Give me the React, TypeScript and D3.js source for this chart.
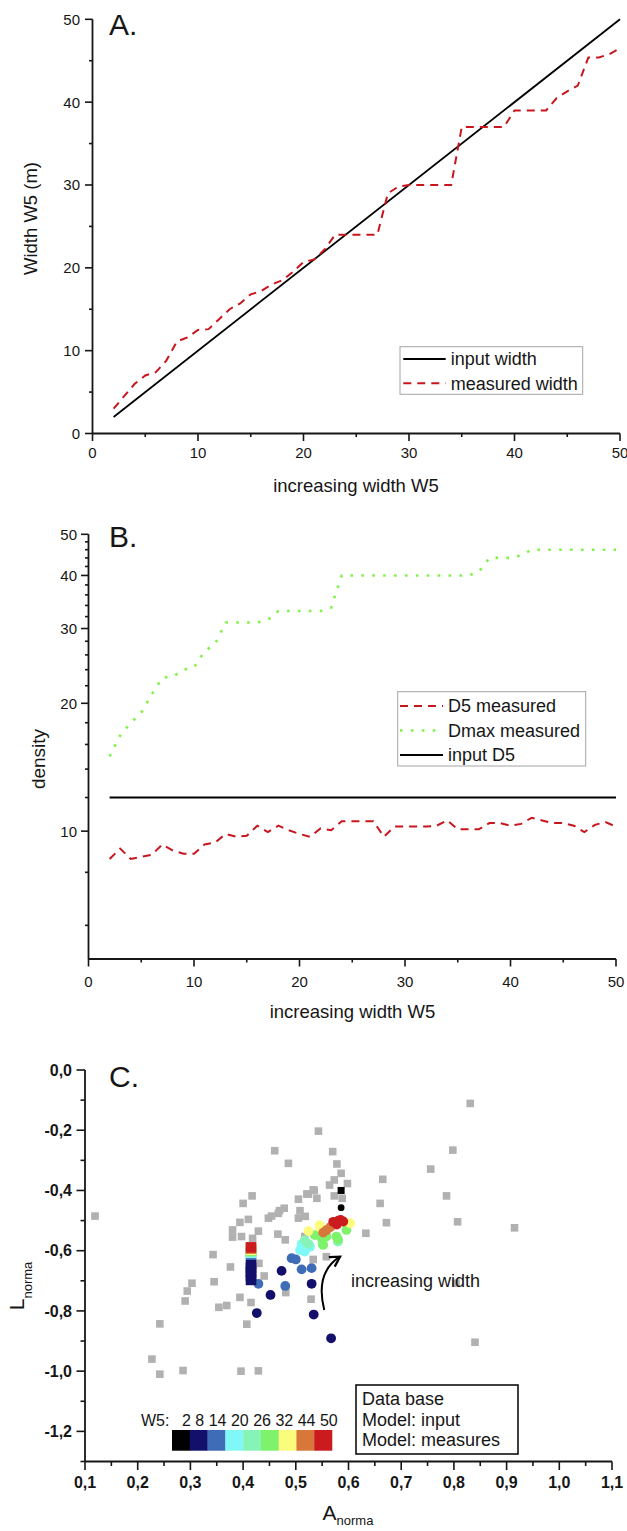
import React from "react";
import * as d3 from "d3";

// ---------- shared series: the widths W5 that were simulated ----------
const widthSteps = [
  2, 3, 4, 5, 6, 7, 8, 9, 10, 11, 12, 13, 14, 15, 16, 17, 18, 19, 20, 21, 22, 23, 24, 25, 26,
  27, 28, 29, 30, 31, 32, 33, 34, 35, 36, 37, 38, 39, 40, 41, 42, 43, 44, 45, 46, 47, 48, 49, 50,
];

// ---------- panel A ----------
const inputWidthLine: [number, number][] = [
  [2, 2],
  [50, 50],
];
const measuredWidth = [
  3, 4.5, 6, 7, 7.4, 8.8, 11.1, 11.6, 12.5, 12.6, 13.8, 15, 15.7, 16.8, 17.2, 18, 18.5, 19.5, 20.7, 21,
  22.2, 24, 24, 24, 24, 24, 29, 29.8, 30, 30, 30, 30, 30, 37, 37, 37, 37, 37, 39, 39, 39, 39, 40.5,
  41.3, 42, 45.4, 45.4, 45.8, 46.5,
];
const aXTicks = [0, 10, 20, 30, 40, 50];
const aXMinor = [5, 15, 25, 35, 45];
const aYTicks = [0, 10, 20, 30, 40, 50];
const aYMinor = [5, 15, 25, 35, 45];

// ---------- panel B ----------
const d5Measured = [
  8.6, 9.1, 8.6, 8.7, 8.8, 9.3, 9.0, 8.85, 8.85, 9.3, 9.4, 9.85, 9.7, 9.75, 10.3, 9.95, 10.3, 10.05,
  9.85, 9.7, 10.15, 10.05, 10.55, 10.55, 10.55, 10.55, 9.7, 10.25, 10.25, 10.25, 10.25, 10.3, 10.6,
  10.1, 10.1, 10.1, 10.45, 10.45, 10.3, 10.4, 10.75, 10.6, 10.45, 10.45, 10.3, 9.95, 10.35, 10.5, 10.25,
];
const dmaxMeasured = [
  15, 16.8, 18, 19, 21, 23, 23.1, 24, 24.3, 26.5, 27.6, 31, 31, 31, 31, 31.4, 33, 33, 33, 33, 33, 33.6,
  40, 40, 40, 40, 40, 40, 40, 40, 40, 40, 40, 40, 40, 40.8, 44, 44, 44, 44.6, 46, 46, 46, 46, 46, 46,
  46, 46, 46,
];
const inputD5Line: [number, number][] = [
  [2, 12],
  [50, 12],
];
const bXTicks = [0, 10, 20, 30, 40, 50];
const bXMinor = [5, 15, 25, 35, 45];
const bYTicks = [10, 20, 30, 40, 50];
const bYMinor = [6, 8, 12, 14, 16, 18, 22, 24, 26, 28, 32, 34, 36, 38, 42, 44, 46, 48];

// ---------- panel C ----------
// data base (A_norma, L_norma)
const databasePoints: [number, number][] = [
  [0.119, -0.485], [0.46, -0.268], [0.486, -0.31], [0.543, -0.203], [0.4, -0.443], [0.417, -0.418],
  [0.394, -0.506], [0.41, -0.496], [0.448, -0.492], [0.467, -0.476], [0.478, -0.459], [0.505, -0.429],
  [0.521, -0.412], [0.535, -0.4], [0.508, -0.467], [0.505, -0.492], [0.518, -0.486], [0.38, -0.531],
  [0.38, -0.555], [0.397, -0.553], [0.429, -0.535], [0.418, -0.559], [0.466, -0.545], [0.48, -0.564],
  [0.343, -0.613], [0.376, -0.654], [0.43, -0.642], [0.533, -0.629], [0.558, -0.62], [0.517, -0.553],
  [0.57, -0.271], [0.578, -0.312], [0.586, -0.343], [0.573, -0.365], [0.564, -0.382], [0.598, -0.377],
  [0.665, -0.363], [0.66, -0.443], [0.672, -0.507], [0.633, -0.542], [0.533, -0.398], [0.524, -0.412],
  [0.54, -0.426], [0.573, -0.418], [0.588, -0.426], [0.469, -0.467], [0.454, -0.485], [0.831, -0.111],
  [0.798, -0.266], [0.756, -0.329], [0.786, -0.418], [0.807, -0.504], [0.915, -0.524], [0.345, -0.703],
  [0.303, -0.708], [0.294, -0.734], [0.29, -0.767], [0.242, -0.843], [0.227, -0.96], [0.242, -1.01],
  [0.286, -0.998], [0.396, -1.0], [0.429, -0.999], [0.394, -0.755], [0.354, -0.788], [0.369, -0.782],
  [0.415, -0.772], [0.407, -0.844], [0.44, -0.684], [0.481, -0.739], [0.529, -0.761], [0.804, -0.708],
  [0.84, -0.904],
];
// model input (A_norma, L_norma, W5)
const modelInput: [number, number, number][] = [
  [0.586, -0.4, 2],
  [0.415, -0.697, 8], [0.415, -0.683, 8], [0.415, -0.67, 8], [0.415, -0.657, 8], [0.415, -0.646, 8],
  [0.415, -0.612, 14], [0.415, -0.607, 20], [0.415, -0.603, 26], [0.415, -0.6, 32],
  [0.415, -0.597, 38], [0.415, -0.593, 44], [0.415, -0.589, 50],
];
// model measures (A_norma, L_norma, W5)
const modelMeasures: [number, number, number][] = [
  [0.586, -0.457, 2],
  [0.473, -0.667, 8], [0.452, -0.747, 8], [0.426, -0.807, 8], [0.53, -0.71, 8], [0.534, -0.812, 8],
  [0.567, -0.891, 8],
  [0.429, -0.71, 14], [0.48, -0.717, 14], [0.492, -0.625, 14], [0.5, -0.629, 14], [0.511, -0.662, 14],
  [0.53, -0.658, 14],
  [0.508, -0.598, 20], [0.511, -0.578, 20], [0.517, -0.603, 20], [0.527, -0.587, 20], [0.511, -0.592, 20],
  [0.524, -0.578, 26], [0.551, -0.578, 26], [0.517, -0.566, 26], [0.58, -0.57, 26],
  [0.536, -0.548, 32], [0.549, -0.559, 32], [0.558, -0.553, 32], [0.577, -0.553, 32], [0.596, -0.531, 32],
  [0.552, -0.581, 32], [0.58, -0.562, 32],
  [0.524, -0.535, 38], [0.545, -0.515, 38], [0.603, -0.509, 38], [0.546, -0.522, 38],
  [0.552, -0.54, 44], [0.558, -0.532, 44], [0.565, -0.522, 44], [0.572, -0.513, 44],
  [0.571, -0.504, 50], [0.578, -0.513, 50], [0.581, -0.5, 50], [0.59, -0.503, 50], [0.585, -0.498, 50],
];
const colorSteps = [2, 8, 14, 20, 26, 32, 38, 44, 50];
const colorValues = [
  "#000000", "#13106b", "#3e6cb7", "#80f8f8", "#86f4b6", "#7ef26a", "#fcfc7c", "#d8773a", "#cc1b1f",
];
const colorBarLabels = ["2", "8", "14", "20", "26", "32", "44", "50"];
const legendCLines = ["Data base", "Model: input", "Model: measures"];
// curved arrow, in data units: start, control, end
const arrowPath: [number, number][] = [
  [0.554, -0.797],
  [0.536, -0.672],
  [0.584, -0.62],
];
const cXTicks = [0.1, 0.2, 0.3, 0.4, 0.5, 0.6, 0.7, 0.8, 0.9, 1.0, 1.1];
const cXMinor = [0.15, 0.25, 0.35, 0.45, 0.55, 0.65, 0.75, 0.85, 0.95, 1.05];
const cYTicks = [0, -0.2, -0.4, -0.6, -0.8, -1.0, -1.2];
const cYMinor = [-0.1, -0.3, -0.5, -0.7, -0.9, -1.1, -1.3];

const FONT = "'Liberation Sans', Arial, Helvetica, sans-serif";
const INK = "#161616";
const RED = "#c8161e";
const GREEN = "#80f24a";

type Scale = (v: number) => number;

function LeftAxis(props: {
  scale: Scale;
  x: number;
  y0: number;
  y1: number;
  ticks: number[];
  minor: number[];
  majorLen: number;
  minorLen: number;
  labelX: number;
  fmt: (v: number) => string;
  fontSize: number;
  bold?: boolean;
}) {
  const { scale, x, y0, y1, ticks, minor, majorLen, minorLen, labelX, fmt, fontSize, bold } = props;
  return (
    <g>
      <line x1={x} x2={x} y1={y0} y2={y1} stroke={INK} strokeWidth={1.8} />
      {ticks.map((t) => (
        <line key={"M" + t} x1={x - majorLen} x2={x} y1={scale(t)} y2={scale(t)} stroke={INK} strokeWidth={1.6} />
      ))}
      {minor.map((t) => (
        <line key={"m" + t} x1={x - minorLen} x2={x} y1={scale(t)} y2={scale(t)} stroke={INK} strokeWidth={1.6} />
      ))}
      {ticks.map((t) => (
        <text
          key={"L" + t}
          x={labelX}
          y={scale(t)}
          dy="0.36em"
          textAnchor="end"
          fontSize={fontSize}
          fontWeight={bold ? "bold" : "normal"}
          fill={INK}
        >
          {fmt(t)}
        </text>
      ))}
    </g>
  );
}

function BottomAxis(props: {
  scale: Scale;
  y: number;
  x0: number;
  x1: number;
  ticks: number[];
  minor: number[];
  majorLen: number;
  minorLen: number;
  labelY: number;
  fmt: (v: number) => string;
  fontSize: number;
  bold?: boolean;
}) {
  const { scale, y, x0, x1, ticks, minor, majorLen, minorLen, labelY, fmt, fontSize, bold } = props;
  return (
    <g>
      <line x1={x0} x2={x1} y1={y} y2={y} stroke={INK} strokeWidth={1.8} />
      {ticks.map((t) => (
        <line key={"M" + t} x1={scale(t)} x2={scale(t)} y1={y} y2={y + majorLen} stroke={INK} strokeWidth={1.6} />
      ))}
      {minor.map((t) => (
        <line key={"m" + t} x1={scale(t)} x2={scale(t)} y1={y} y2={y + minorLen} stroke={INK} strokeWidth={1.6} />
      ))}
      {ticks.map((t) => (
        <text
          key={"L" + t}
          x={scale(t)}
          y={labelY}
          textAnchor="middle"
          fontSize={fontSize}
          fontWeight={bold ? "bold" : "normal"}
          fill={INK}
        >
          {fmt(t)}
        </text>
      ))}
    </g>
  );
}

export default function App() {
  // ----- scales -----
  const xA = d3.scaleLinear().domain([0, 50]).range([92.5, 620]);
  const yA = d3.scaleLinear().domain([0, 50]).range([433.5, 19.3]);
  const xB = d3.scaleLinear().domain([0, 50]).range([88.5, 616]);
  const yB = d3.scaleLog().domain([5, 50]).range([959, 534.3]);
  const xC = d3.scaleLinear().domain([0.1, 1.1]).range([85, 612]);
  const yC = d3.scaleLinear().domain([-1.3, 0]).range([1461.5, 1070]);

  const lineA = d3
    .line<[number, number]>()
    .x((d) => xA(d[0]))
    .y((d) => yA(d[1]));
  const lineB = d3
    .line<[number, number]>()
    .x((d) => xB(d[0]))
    .y((d) => yB(d[1]));

  const measuredA = widthSteps.map((w, i) => [w, measuredWidth[i]] as [number, number]);
  const d5B = widthSteps.map((w, i) => [w, d5Measured[i]] as [number, number]);
  const dmaxB = widthSteps.map((w, i) => [w, dmaxMeasured[i]] as [number, number]);

  const colorOf = d3.scaleOrdinal<number, string>().domain(colorSteps).range(colorValues);
  const commaFmt = (v: number) => d3.format(".1f")(v).replace(".", ",").replace("−", "-");
  const intFmt = (v: number) => String(v);

  // color bar cells
  const barX = d3.scaleBand<number>().domain(colorSteps).range([172, 332]).paddingInner(0);

  // curved arrow
  const [ap0, ap1, ap2] = arrowPath.map(([a, l]) => [xC(a), yC(l)]);
  const arrowD = `M${ap0[0]},${ap0[1]} Q${ap1[0]},${ap1[1]} ${ap2[0]},${ap2[1]}`;

  const legendARows = [
    { label: "input width", color: "#000", dash: undefined as string | undefined, w: 1.8 },
    { label: "measured width", color: RED, dash: "8 6", w: 2 },
  ];
  const legendBRows = [
    { label: "D5 measured", color: RED, dash: "8 6", w: 2 },
    { label: "Dmax measured", color: GREEN, dash: "2.6 8.3", w: 2.6 },
    { label: "input D5", color: "#000", dash: undefined as string | undefined, w: 2.2 },
  ];

  const sqGray = 7.6;

  return (
    <svg
      width={627}
      height={1531}
      viewBox="0 0 627 1531"
      style={{ position: "absolute", left: 0, top: 0, background: "#fff", fontFamily: FONT }}
    >
      <rect x={0} y={0} width={627} height={1531} fill="#fff" />

      {/* ================= Panel A ================= */}
      <g>
        <path d={lineA(inputWidthLine) || ""} fill="none" stroke="#000" strokeWidth={1.8} />
        <path d={lineA(measuredA) || ""} fill="none" stroke={RED} strokeWidth={2} strokeDasharray="8 6" />
        <LeftAxis
          scale={yA}
          x={92.5}
          y0={19.3}
          y1={433.5}
          ticks={aYTicks}
          minor={aYMinor}
          majorLen={7.5}
          minorLen={3.5}
          labelX={80}
          fmt={intFmt}
          fontSize={15}
        />
        <BottomAxis
          scale={xA}
          y={433.5}
          x0={92.5}
          x1={620}
          ticks={aXTicks}
          minor={aXMinor}
          majorLen={7.5}
          minorLen={3.5}
          labelY={458}
          fmt={intFmt}
          fontSize={15}
        />
        <text x={109} y={35} fontSize={30} fill={INK}>
          A.
        </text>
        <text
          transform="translate(36.5,218.5) rotate(-90)"
          textAnchor="middle"
          fontSize={18.5}
          fill={INK}
        >
          Width W5 (m)
        </text>
        <text x={356} y={491.5} textAnchor="middle" fontSize={18.5} fill={INK}>
          increasing width W5
        </text>
        {/* legend */}
        <rect x={400} y={346.7} width={182.7} height={47.6} fill="#fff" stroke="#a4a4a4" strokeWidth={1} />
        {legendARows.map((r, i) => {
          const cy = 359 + i * 24.3;
          return (
            <g key={r.label}>
              <line x1={403.3} x2={445.7} y1={cy} y2={cy} stroke={r.color} strokeWidth={r.w} strokeDasharray={r.dash} />
              <text x={450.7} y={cy + 6.3} fontSize={18} fill={INK}>
                {r.label}
              </text>
            </g>
          );
        })}
      </g>

      {/* ================= Panel B ================= */}
      <g>
        <path d={lineB(inputD5Line) || ""} fill="none" stroke="#000" strokeWidth={2.2} />
        <path d={lineB(d5B) || ""} fill="none" stroke={RED} strokeWidth={2} strokeDasharray="8 6" />
        <path d={lineB(dmaxB) || ""} fill="none" stroke={GREEN} strokeWidth={2.6} strokeDasharray="2.6 8.3" />
        <LeftAxis
          scale={yB}
          x={88.5}
          y0={534.3}
          y1={959}
          ticks={bYTicks}
          minor={bYMinor}
          majorLen={7.5}
          minorLen={3.5}
          labelX={77}
          fmt={intFmt}
          fontSize={15}
        />
        <BottomAxis
          scale={xB}
          y={959}
          x0={88.5}
          x1={616}
          ticks={bXTicks}
          minor={bXMinor}
          majorLen={7.5}
          minorLen={3.5}
          labelY={987}
          fmt={intFmt}
          fontSize={15}
        />
        <text x={109} y={547} fontSize={30} fill={INK}>
          B.
        </text>
        <text transform="translate(45,759) rotate(-90)" textAnchor="middle" fontSize={19} fill={INK}>
          density
        </text>
        <text x={352.5} y={1018} textAnchor="middle" fontSize={18.5} fill={INK}>
          increasing width W5
        </text>
        <rect x={397.7} y={691.7} width={188} height={74.3} fill="#fff" stroke="#a4a4a4" strokeWidth={1} />
        {legendBRows.map((r, i) => {
          const cy = 706 + i * 24.5;
          return (
            <g key={r.label}>
              <line x1={400} x2={443} y1={cy} y2={cy} stroke={r.color} strokeWidth={r.w} strokeDasharray={r.dash} />
              <text x={448} y={cy + 6.3} fontSize={18} fill={INK}>
                {r.label}
              </text>
            </g>
          );
        })}
      </g>

      {/* ================= Panel C ================= */}
      <g>
        {databasePoints.map(([a, l], i) => (
          <rect
            key={"db" + i}
            x={xC(a) - sqGray / 2}
            y={yC(l) - sqGray / 2}
            width={sqGray}
            height={sqGray}
            fill="#b1b1b1"
          />
        ))}
        {modelMeasures.map(([a, l, w], i) => (
          <circle key={"mm" + i} cx={xC(a)} cy={yC(l)} r={w === 2 ? 3.4 : 4.9} fill={colorOf(w)} />
        ))}
        {modelInput.map(([a, l, w], i) => {
          const s = w === 2 ? 7 : 10.6;
          return (
            <rect key={"mi" + i} x={xC(a) - s / 2} y={yC(l) - s / 2} width={s} height={s} fill={colorOf(w)} />
          );
        })}

        {/* curved arrow */}
        <defs>
          <marker id="arrowHead" viewBox="0 0 10 10" refX="8" refY="5" markerWidth="7" markerHeight="7" orient="auto">
            <path d="M1,1 L8,5 L1,9" fill="none" stroke="#000" strokeWidth={1.6} />
          </marker>
        </defs>
        <path d={arrowD} fill="none" stroke="#000" strokeWidth={2} markerEnd="url(#arrowHead)" />
        <text x={351} y={1286.7} fontSize={18} fill={INK}>
          increasing width
        </text>

        <LeftAxis
          scale={yC}
          x={85}
          y0={1070}
          y1={1461.5}
          ticks={cYTicks}
          minor={cYMinor}
          majorLen={8.5}
          minorLen={4.5}
          labelX={72}
          fmt={commaFmt}
          fontSize={16}
          bold
        />
        <BottomAxis
          scale={xC}
          y={1461.5}
          x0={85}
          x1={612}
          ticks={cXTicks}
          minor={cXMinor}
          majorLen={8.5}
          minorLen={4.5}
          labelY={1488}
          fmt={commaFmt}
          fontSize={16}
          bold
        />
        <text x={109} y={1086.7} fontSize={30} fill={INK}>
          C.
        </text>
        <text x={348} y={1520} textAnchor="middle" fontSize={21} fill={INK}>
          A
          <tspan fontSize={13} dy={5}>
            norma
          </tspan>
        </text>
        <text transform="translate(24,1286) rotate(-90)" textAnchor="middle" fontSize={21} fill={INK}>
          L
          <tspan fontSize={13} dy={8}>
            norma
          </tspan>
        </text>

        {/* color bar */}
        <text x={141} y={1425.5} fontSize={16} fill={INK}>
          W5:
        </text>
        <text x={182} y={1425.5} fontSize={16} fill={INK}>
          {colorBarLabels.join(" ")}
        </text>
        {colorSteps.map((w) => (
          <rect key={"cb" + w} x={barX(w)} y={1430} width={barX.bandwidth() + 0.3} height={20.7} fill={colorOf(w)} />
        ))}

        {/* legend */}
        <rect x={356} y={1385} width={162} height={69} fill="#fff" stroke="#000" strokeWidth={1.5} />
        {legendCLines.map((t, i) => (
          <text key={t} x={362} y={1405 + i * 20.5} fontSize={18} fill={INK}>
            {t}
          </text>
        ))}
      </g>
    </svg>
  );
}
